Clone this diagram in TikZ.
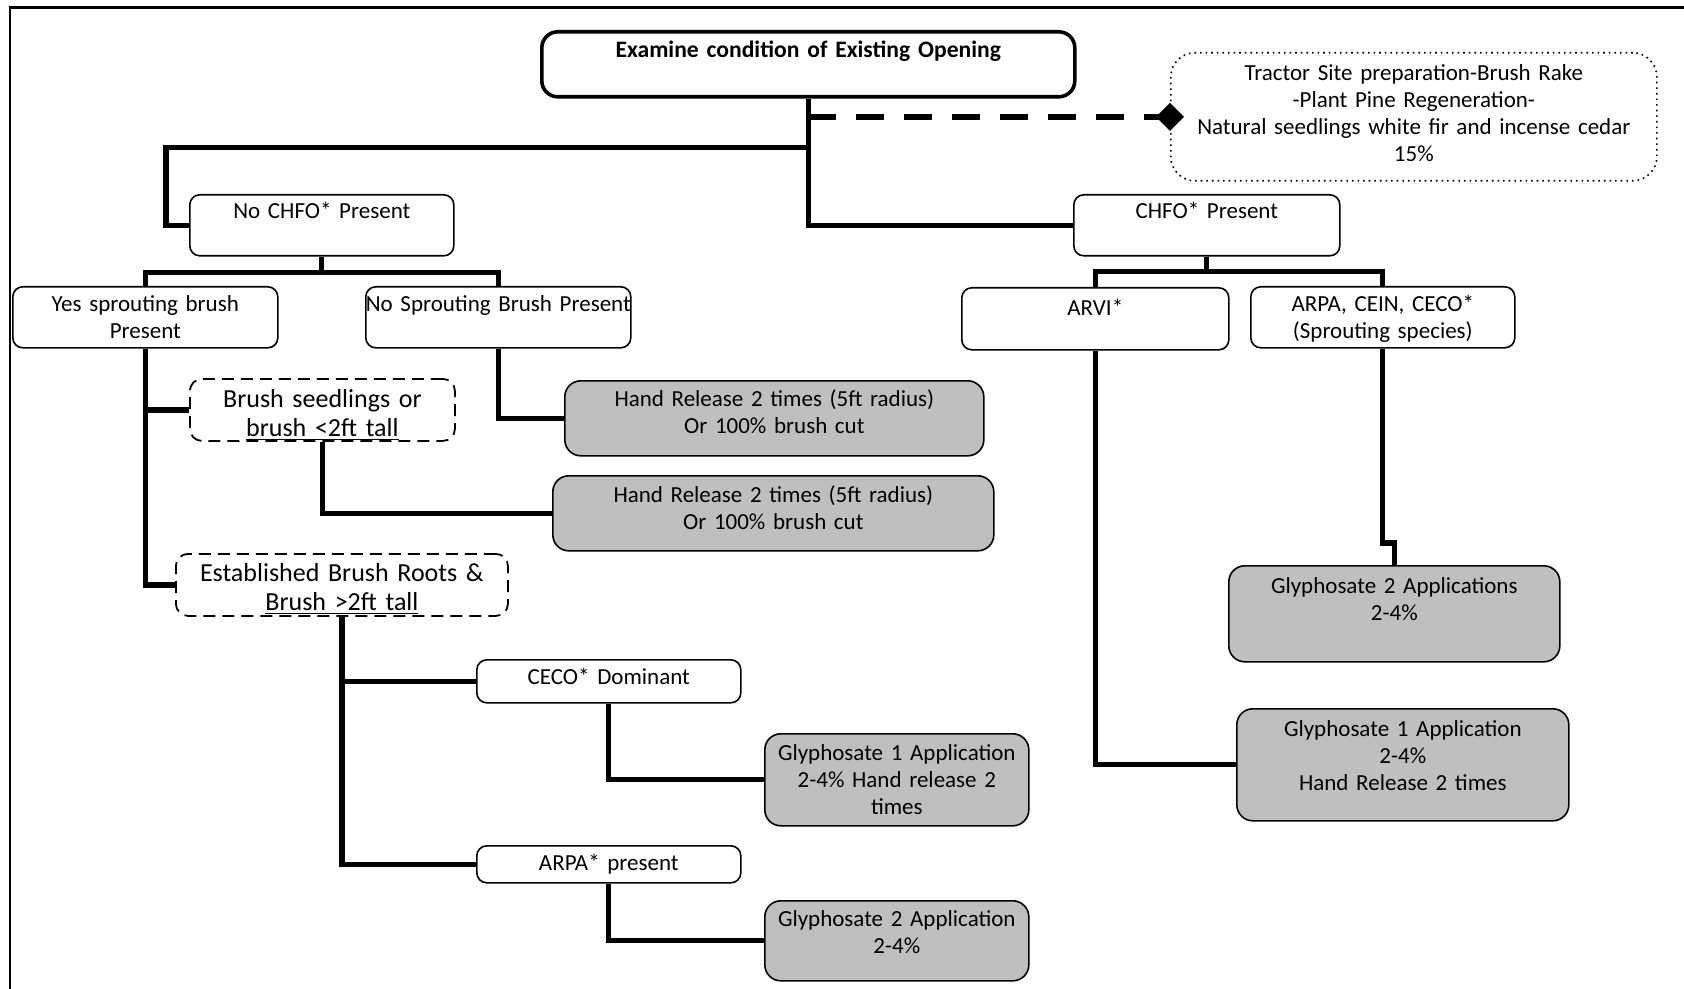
\documentclass[tikz,border=0pt]{standalone}
\usepackage{fontspec}
\setmainfont{Carlito}
\usetikzlibrary{positioning,calc,arrows.meta}
\definecolor{shade}{RGB}{191,191,191}

\begin{document}
\begin{tikzpicture}[x=0.5pt,y=-0.5pt,
  font=\fontsize{11.5}{13.5}\selectfont,
  sz/.style n args={3}{anchor=north west,inner xsep=0pt,inner ysep=0pt,align=center,
    text width=#1*0.5pt,text height=#2*0.5pt,text depth=#3*0.5pt},
  wbox/.style={draw,line width=0.8pt,rounded corners=5pt,fill=white},
  gbox/.style={wbox,fill=shade,rounded corners=8pt},
  dbox/.style={draw,line width=0.9pt,dash pattern=on 6pt off 3.5pt,rounded corners=6pt,
    font=\fontsize{13}{14.5}\selectfont},
  conn/.style={line width=2.6pt}]
  \useasboundingbox (0,0) rectangle (1684,989);
  \draw[line width=1.4pt] (10,989) -- (10,7.5) -- (1684,7.5);

  % top of the tree
  \node[wbox,sz={533}{26}{39},line width=1.8pt,rounded corners=8pt,
    font=\fontsize{11.8}{13.5}\selectfont\bfseries] (exam) at (540,30) {Examine condition of Existing Opening};
  \node[draw,dotted,line width=0.8pt,rounded corners=12pt,sz={486}{28}{100}] (tractor) at (1170,52)
    {Tractor Site preparation-Brush Rake\\-Plant Pine Regeneration-\\Natural seedlings white fir and incense cedar\\15\%};
  \node[wbox,sz={264}{24}{37}] (nochfo) at (189,194) {No CHFO* Present};
  \node[wbox,sz={266}{24}{37}] (chfo) at (1073,194) {CHFO* Present};

  % no CHFO side
  \node[wbox,sz={265}{25}{36}] (yes) at (12,286) {Yes sprouting brush\\Present};
  \node[wbox,sz={265}{25}{36}] (nosprout) at (365,286) {No Sprouting Brush Present};
  \node[dbox,sz={265}{29}{33}] (seedl) at (189,378) {Brush seedlings or\\\underline{brush <2ft tall}};
  \node[gbox,sz={419}{26}{49}] (handa) at (564,380) {Hand Release 2 times (5ft radius)\\Or 100\% brush cut};
  \node[gbox,sz={441}{27}{48}] (handb) at (552,475) {Hand Release 2 times (5ft radius)\\Or 100\% brush cut};
  \node[dbox,sz={332}{28}{34}] (estab) at (175,553) {Established Brush Roots \&\\\underline{Brush >2ft tall}};
  \node[wbox,sz={264}{25}{18}] (ceco) at (476,659) {CECO* Dominant};
  \node[gbox,sz={264}{27}{65}] (glyone) at (764,733) {Glyphosate 1 Application\\2-4\% Hand release 2\\times};
  \node[wbox,sz={264}{25}{12}] (arpap) at (476,845) {ARPA* present};
  \node[gbox,sz={264}{26}{54}] (glytwo) at (764,900) {Glyphosate 2 Application\\2-4\%};

  % CHFO side
  \node[wbox,sz={267}{28}{34}] (arvi) at (961,287) {ARVI*};
  \node[wbox,sz={264}{25}{36}] (arpa) at (1250,286) {ARPA, CEIN, CECO*\\(Sprouting species)};
  \node[gbox,sz={331}{28}{68}] (glyapps) at (1228,565) {Glyphosate 2 Applications\\2-4\%};
  \node[gbox,sz={332}{28}{84}] (glyarvi) at (1236,708) {Glyphosate 1 Application\\2-4\%\\Hand Release 2 times};

  % connectors
  \draw[conn] (exam.south) |- (chfo.west);
  \draw[conn] (exam.south) -- ++(0,49) -| ($(nochfo.west)+(-23,0)$) -- (nochfo.west);
  \draw[line width=3pt,dash pattern=on 14pt off 10pt,-{Diamond[length=14pt,width=14pt]},shorten >=-7pt]
    (exam.south |- tractor.west) -- (tractor.west);
  \draw[conn] (nochfo.south) -- ++(0,16) -| (yes.north);
  \draw[conn] (nochfo.south) -- ++(0,16) -| (nosprout.north);
  \draw[conn] (chfo.south) -- ++(0,15) -| (arvi.north);
  \draw[conn] (chfo.south) -- ++(0,15) -| (arpa.north);
  \draw[conn] (yes.south) |- (seedl.west);
  \draw[conn] (yes.south) |- (estab.west);
  \draw[conn] (nosprout.south) |- (handa.west);
  \draw[conn] (seedl.south) |- (handb.west);
  \draw[conn] (estab.south) |- (ceco.west);
  \draw[conn] (estab.south) |- (arpap.west);
  \draw[conn] (ceco.south) |- (glyone.west);
  \draw[conn] (arpap.south) |- (glytwo.west);
  \draw[conn] (arvi.south) |- (glyarvi.west);
  \draw[conn] (arpa.south) |- ($(glyapps.north)+(0,-22)$) -- (glyapps.north);
\end{tikzpicture}
\end{document}
